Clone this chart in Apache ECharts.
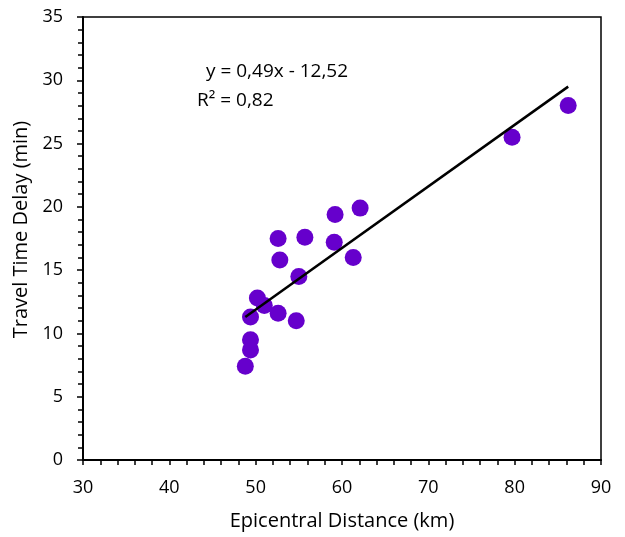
<!DOCTYPE html>
<html>
<head>
<meta charset="utf-8">
<script src="https://cdn.jsdelivr.net/npm/echarts@6/dist/echarts.min.js"></script>
<style>html,body{margin:0;padding:0;background:#fff;}#c{width:625px;height:537px;}</style>
</head>
<body>
<div id="c"></div>
<script>
var distanceKm = [48.8, 49.4, 49.4, 49.4, 50.2, 51.0, 52.6, 52.6, 52.8, 54.7, 55.0, 55.7, 59.1, 59.2, 61.3, 62.1, 79.7, 86.2];
var delayMin   = [7.4, 8.7, 9.5, 11.3, 12.8, 12.2, 11.6, 17.5, 15.8, 11.0, 14.5, 17.6, 17.2, 19.4, 16.0, 19.9, 25.5, 28.0];
var trendX = [48.8, 86.2];
var trendY = [11.3, 29.5];
var equationText = 'y = 0,49x - 12,52';
var r2Text = 'R² = 0,82';
var xTitle = 'Epicentral Distance (km)';
var yTitle = 'Travel Time Delay (min)';

var pts = distanceKm.map(function(x, i){ return [x, delayMin[i]]; });
var trend = trendX.map(function(x, i){ return [x, trendY[i]]; });
var font = '"Open Sans", "Noto Sans", sans-serif';

var chart = echarts.init(document.getElementById('c'), null, {renderer: 'canvas'});
chart.setOption({
  animation: false,
  backgroundColor: '#fff',
  grid: {left: 83, right: 24, top: 17, bottom: 77, show: true, borderColor: '#000', borderWidth: 1.5, backgroundColor: 'transparent'},
  xAxis: {
    type: 'value', min: 30, max: 90, interval: 10,
    name: xTitle, nameLocation: 'middle', nameGap: 51,
    nameTextStyle: {fontFamily: font, fontSize: 20, color: '#000'},
    axisLine: {show: true, onZero: false, lineStyle: {color: '#000', width: 2}},
    axisTick: {show: true, inside: false, length: 5, lineStyle: {color: '#000', width: 1.5}},
    minorTick: {show: true, splitNumber: 5, length: 5, lineStyle: {color: '#000', width: 1.5}},
    axisLabel: {fontFamily: font, fontSize: 18, color: '#000', margin: 19},
    splitLine: {show: false}
  },
  yAxis: {
    type: 'value', min: 0, max: 35, interval: 5,
    name: yTitle, nameLocation: 'middle', nameGap: 52,
    nameTextStyle: {fontFamily: font, fontSize: 20, color: '#000', padding: [0, 0, 0, 18]},
    axisLine: {show: true, onZero: false, lineStyle: {color: '#000', width: 2}},
    axisTick: {show: true, inside: false, length: 6, lineStyle: {color: '#000', width: 1.5}},
    minorTick: {show: true, splitNumber: 5, length: 5, lineStyle: {color: '#000', width: 1.5}},
    axisLabel: {fontFamily: font, fontSize: 18, color: '#000', margin: 20},
    splitLine: {show: false}
  },
  series: [
    {
      type: 'scatter', data: pts, symbol: 'circle', symbolSize: 17,
      itemStyle: {color: '#6600cc', opacity: 1}, z: 2
    },
    {
      type: 'line', data: trend, symbol: 'none',
      lineStyle: {color: '#000', width: 2.5}, z: 3
    }
  ],
  graphic: [
    {type: 'text', left: 206, top: 62, style: {text: equationText, font: '19px ' + font, fill: '#000'}},
    {type: 'text', left: 197, top: 91, style: {text: r2Text, font: '19px ' + font, fill: '#000'}}
  ]
});
</script>
</body>
</html>
